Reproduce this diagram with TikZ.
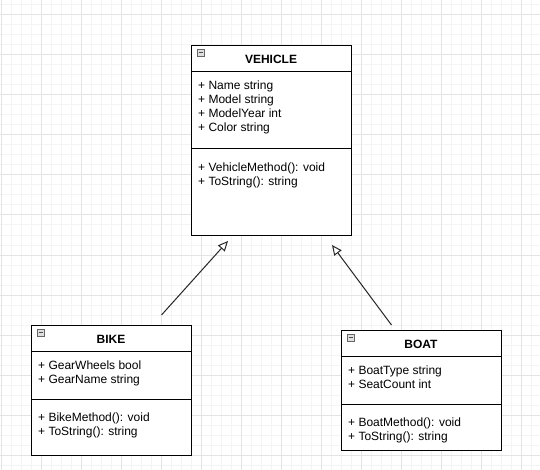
\documentclass[tikz,border=0pt]{standalone}
\usepackage{fontspec}
\setmainfont{Liberation Sans}
\usetikzlibrary{arrows.meta}
\definecolor{gridminor}{HTML}{F4F4F4}
\definecolor{gridmajor}{HTML}{E4E4E4}
\tikzset{
  classbox/.style={draw=black, line width=1pt, fill=white, rectangle, minimum width=160pt, inner sep=0pt, anchor=north west},
  sepline/.style={draw=black, line width=1pt},
  member/.style={anchor=west, inner sep=0pt, font=\fontsize{12}{14}\selectfont, text height=8.6pt, text depth=2.4pt},
  ctitle/.style={anchor=center, inner sep=0pt, font=\fontsize{12}{14}\selectfont\bfseries, text height=8.6pt, text depth=2.4pt},
  inherit/.style={draw=black!85, line width=1pt, -{Triangle[open, length=10pt, width=9pt, fill=white]}},
  iconbox/.style={draw=gray!80!black, fill=gray!25, line width=0.8pt},
}
\begin{document}
\begin{tikzpicture}[x=1pt, y=-1pt]
\useasboundingbox (0,0) rectangle (540,470);
\fill[white] (0,0) rectangle (540,470);
% grid
\foreach \gx in {1,11,...,531} \draw[gridminor, line width=1pt] (\gx,0) -- (\gx,470);
\foreach \gy in {5,15,...,465} \draw[gridminor, line width=1pt] (0,\gy) -- (540,\gy);
\foreach \gx in {1,41,...,521} \draw[gridmajor, line width=1pt] (\gx,0) -- (\gx,470);
\foreach \gy in {15,55,...,455} \draw[gridmajor, line width=1pt] (0,\gy) -- (540,\gy);

% VEHICLE
\node[classbox, minimum height=190pt] (vehicle) at (191,45) {};
\draw[sepline] (191,71.5) -- (351,71.5);
\draw[sepline] (191,149) -- (351,149);
\draw[iconbox] (197,49) rectangle (204,56);
\draw[black!70, line width=0.9pt] (198.5,52.5) -- (202.5,52.5);
\node[ctitle] (vtitle) at (271,60) {VEHICLE};
\node[member] (v1) at (198,86) {+ Name string};
\node[member] (v2) at (198,100) {+ Model string};
\node[member] (v3) at (198,114) {+ ModelYear int};
\node[member] (v4) at (198,128) {+ Color string};
\node[member] (v5) at (198,168) {+ VehicleMethod(): void};
\node[member] (v6) at (198,182) {+ ToString(): string};

% BIKE
\node[classbox, minimum height=130pt] (bike) at (31,325) {};
\draw[sepline] (31,351.5) -- (191,351.5);
\draw[sepline] (31,399) -- (191,399);
\draw[iconbox] (37,329) rectangle (44,336);
\draw[black!70, line width=0.9pt] (38.5,332.5) -- (42.5,332.5);
\node[ctitle] (btitle) at (111,340.5) {BIKE};
\node[member] (b1) at (38,366) {+ GearWheels bool};
\node[member] (b2) at (38,380) {+ GearName string};
\node[member] (b3) at (38,418) {+ BikeMethod(): void};
\node[member] (b4) at (38,432) {+ ToString(): string};

% BOAT
\node[classbox, minimum height=120pt] (boat) at (341,330) {};
\draw[sepline] (341,356.5) -- (501,356.5);
\draw[sepline] (341,404) -- (501,404);
\draw[iconbox] (347,334) rectangle (354,341);
\draw[black!70, line width=0.9pt] (348.5,337.5) -- (352.5,337.5);
\node[ctitle] (otitle) at (421,345.5) {BOAT};
\node[member] (o1) at (348,371) {+ BoatType string};
\node[member] (o2) at (348,385) {+ SeatCount int};
\node[member] (o3) at (348,423) {+ BoatMethod(): void};
\node[member] (o4) at (348,437) {+ ToString(): string};

% inheritance arrows
\coordinate (bikeStart) at (161.5,315);
\coordinate (bikeTip) at (228,241);
\coordinate (boatStart) at (391.5,325);
\coordinate (boatTip) at (332,245);
\draw[inherit] (bikeStart) -- (bikeTip);
\draw[inherit] (boatStart) -- (boatTip);
\end{tikzpicture}
\end{document}
